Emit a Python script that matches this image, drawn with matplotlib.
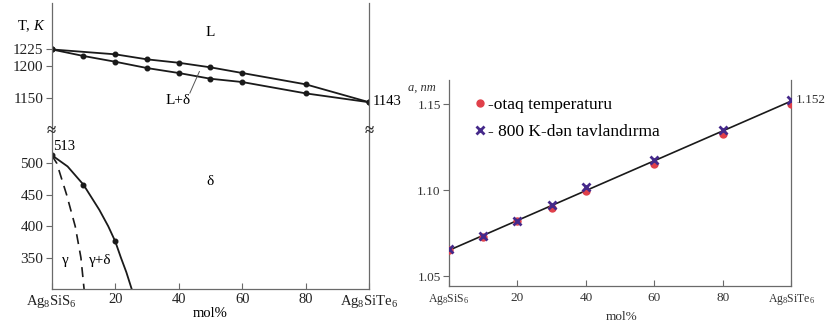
import matplotlib
matplotlib.use("Agg")
import matplotlib.pyplot as plt
from matplotlib.lines import Line2D

plt.rcParams['font.family'] = ['Liberation Serif', 'DejaVu Serif']
plt.rcParams['mathtext.fontset'] = 'custom'
plt.rcParams['mathtext.rm'] = 'Liberation Serif'
plt.rcParams['mathtext.it'] = 'Liberation Serif:italic'
plt.rcParams['mathtext.default'] = 'regular'

# ---------- left: phase diagram ----------
liq_x = [0, 20, 30, 40, 50, 60, 80, 100]
liq_T = [1225, 1217.4, 1209.6, 1204.3, 1197.2, 1188.4, 1170.8, 1143]
sol_x = [0, 10, 20, 30, 40, 50, 60, 80, 100]
sol_T = [1225, 1214.8, 1205.9, 1196.1, 1188.4, 1179.5, 1174.4, 1156.8, 1143]

solvus_x = [0, 5, 10, 15, 17.8, 20, 21.8, 23.5, 25.2]
solvus_T = [513, 495, 466, 426, 400, 376, 350, 327, 300]
solvus_pts_x = [0, 10, 20]
solvus_pts_T = [513, 466, 376]
dash_x = [0, 1.6, 4.7, 7.4, 9.2, 10.2]
dash_T = [513, 500, 450, 400, 350, 300]

upper_ticks = [1150, 1200, 1225]
lower_ticks = [350, 400, 450, 500]
x_ticks = [0, 20, 40, 60, 80, 100]
x_ticklabels = ['Ag$_{8}$SiS$_{6}$', '20', '40', '60', '80', 'Ag$_{8}$SiTe$_{6}$']

# ---------- right: lattice parameter ----------
a_x = [0, 10, 20, 30, 40, 60, 80, 100]
a_room = [1.065, 1.073, 1.082, 1.0897, 1.0994, 1.115, 1.1326, 1.1504]
a_ann = [1.0655, 1.0733, 1.0822, 1.0913, 1.1016, 1.1174, 1.1349, 1.1527]
fit_x = [0, 100]
fit_a = [1.065, 1.152]
right_yticks = [1.05, 1.10, 1.15]
right_yticklabels = ['1.05', '1.10', '1.15']

W, H = 829, 322
fig = plt.figure(figsize=(W / 100, H / 100), dpi=100)

def fr(x0, y0, x1, y1):
    return [x0 / W, 1 - y1 / H, (x1 - x0) / W, (y1 - y0) / H]

spine_c = '#6a6a6a'
dark = '#1a1a1a'

axU = fig.add_axes(fr(51.7, 3, 369.3, 130))
axL = fig.add_axes(fr(51.7, 130, 369.3, 289.3))

for ax in (axU, axL):
    ax.set_xlim(0, 100)
    ax.spines['top'].set_visible(False)
    for s in ('left', 'right', 'bottom'):
        ax.spines[s].set_color(spine_c)
        ax.spines[s].set_linewidth(0.9)
    ax.tick_params(axis='y', direction='out', length=4, width=0.8, color=spine_c,
                   labelsize=11, pad=2, labelcolor='#222222')
axU.spines['bottom'].set_visible(False)

axU.set_ylim(1100, 1297)
axU.set_yticks(upper_ticks)
axU.set_yticklabels(['1150', '1200', '1225'])
axU.set_xticks([])
axU.plot(liq_x, liq_T, color=dark, lw=1.3, marker='o', ms=3.3)
axU.plot(sol_x, sol_T, color=dark, lw=1.3, marker='o', ms=3.3)
axU.text(50, 1252, 'L', ha='center', va='center', fontsize=11)
axU.text(39.8, 1146.4, 'L+δ', ha='center', va='center', fontsize=11)
axU.plot([43.5, 46.5], [1157.3, 1190.7], color='#555555', lw=0.7)
axU.text(101, 1144, '1143', ha='left', va='center', fontsize=10.5, clip_on=False)
axU.text(-0.11, 0.82, 'T, $\\mathit{K}$', transform=axU.transAxes, ha='left', va='center', fontsize=10.5)

axL.set_ylim(299.8, 552.9)
axL.set_yticks(lower_ticks)
axL.set_xticks(x_ticks)
axL.set_xticklabels(x_ticklabels)
axL.tick_params(axis='x', direction='in', length=4, width=0.8, color=spine_c,
                labelsize=10.5, pad=3, labelcolor='#222222')
axL.plot(solvus_x, solvus_T, color=dark, lw=1.3)
axL.plot(solvus_pts_x, solvus_pts_T, 'o', color=dark, ms=3.3)
axL.plot(dash_x, dash_T, color=dark, lw=1.2, ls=(0, (6, 4)))
axL.text(0.4, 526, '513', ha='left', va='center', fontsize=10.5)
axL.text(4.2, 346, 'γ', ha='center', va='center', fontsize=11)
axL.text(15.2, 346, 'γ+δ', ha='center', va='center', fontsize=11)
axL.text(50, 471, 'δ', ha='center', va='center', fontsize=11)
axL.text(50, -0.155, 'mol%', transform=axL.get_xaxis_transform(), ha='center', va='center', fontsize=10.5)

for xx in (0, 100):
    fig.text((51.7 + xx * 3.176) / W, 1 - 131 / H, '≈', ha='center', va='center',
             fontsize=12, fontweight='bold', color='#333333')

# right plot
axR = fig.add_axes(fr(449, 80, 791.5, 286))
axR.set_xlim(0, 100)
axR.set_ylim(1.0442, 1.1642)
axR.spines['top'].set_visible(False)
for s in ('left', 'right', 'bottom'):
    axR.spines[s].set_color(spine_c)
    axR.spines[s].set_linewidth(0.9)
axR.set_yticks(right_yticks)
axR.set_yticklabels(right_yticklabels)
axR.set_xticks(x_ticks)
axR.set_xticklabels(x_ticklabels)
axR.tick_params(axis='y', direction='out', length=4, width=0.8, color=spine_c,
                labelsize=9.5, pad=2, labelcolor='#333333')
axR.tick_params(axis='x', direction='in', length=4, width=0.8, color=spine_c,
                labelsize=9.5, pad=4, labelcolor='#333333')
for lbl in (axR.get_xticklabels()[0], axR.get_xticklabels()[-1]):
    lbl.set_fontsize(8.5)

red = '#e0404a'
purple = '#45298a'
axR.plot(fit_x, fit_a, color=dark, lw=1.2, zorder=2)
axR.plot(a_x, a_room, 'o', color=red, ms=5, zorder=3)
axR.plot(a_x, a_ann, 'x', color=purple, ms=6, mew=2, zorder=4)
axR.text(101.2, 1.1527, '1.152', ha='left', va='center', fontsize=9.5, color='#333333', clip_on=False)
axR.text(-0.079, 1.1595, 'a, nm', transform=axR.get_yaxis_transform(), ha='center', va='center',
         fontsize=9, fontstyle='italic', color='#333333')
axR.text(50.5, -0.15, 'mol%', transform=axR.get_xaxis_transform(), ha='center', va='center',
         fontsize=9.5, color='#333333')

handles = [Line2D([], [], ls='none', marker='o', color=red, ms=5),
           Line2D([], [], ls='none', marker='x', color=purple, ms=6, mew=2)]
leg = axR.legend(handles, ['-otaq temperaturu', '- 800 K-dən tavlandırma'],
                 loc='upper left', bbox_to_anchor=(0.045, 0.97), frameon=False,
                 fontsize=12.5, handlelength=0.6, handletextpad=0.15, labelspacing=0.62,
                 borderaxespad=0.2)

fig.savefig('out.png', dpi=100)
